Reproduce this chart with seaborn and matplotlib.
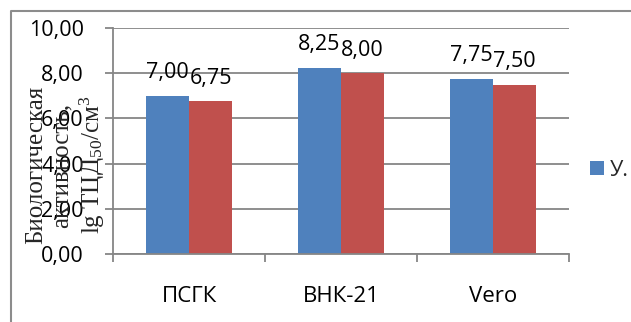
import matplotlib
matplotlib.use("Agg")
import matplotlib.pyplot as plt
import seaborn as sns
import pandas as pd
from matplotlib.lines import Line2D
from matplotlib.ticker import FixedLocator, FuncFormatter

# Biological activity of the virus in three cell cultures
cell_lines = ["ПСГК", "ВНК-21", "Vero"]
series_names = ["У.", "К."]
series_a = [7.00, 8.25, 7.75]
series_b = [6.75, 8.00, 7.50]
y_ticks = [0, 2, 4, 6, 8, 10]
bar_colors = ["#4F81BD", "#C0504D"]

df = pd.DataFrame({
    "cells": cell_lines * 2,
    "series": [series_names[0]] * 3 + [series_names[1]] * 3,
    "value": series_a + series_b,
})

sns.set_style("white")
plt.rcParams["font.family"] = ["Open Sans", "DejaVu Sans"]
plt.rcParams["mathtext.fontset"] = "custom"
plt.rcParams["mathtext.rm"] = "Liberation Serif"
plt.rcParams["mathtext.it"] = "Liberation Serif:italic"

W, H = 631, 322
fig = plt.figure(figsize=(W / 100, H / 100), dpi=100)
ax = fig.add_axes([113 / W, 1 - 254 / H, (569 - 113) / W, (254 - 28) / H])

sns.barplot(data=df, x="cells", y="value", hue="series", palette=bar_colors,
            width=0.566, saturation=1, linewidth=0, ax=ax, legend=False,
            errorbar=None)

grey = "#868686"
ax.set_ylim(0, 10)
ax.set_xlim(-0.5, 2.5)
ax.yaxis.set_major_locator(FixedLocator(y_ticks))
ax.yaxis.set_major_formatter(FuncFormatter(lambda v, p: f"{v:.2f}".replace(".", ",")))
ax.grid(axis="y", color=grey, linewidth=1.3)
ax.set_axisbelow(True)
for side in ("top", "right"):
    ax.spines[side].set_visible(False)
for side in ("left", "bottom"):
    ax.spines[side].set_color(grey)
    ax.spines[side].set_linewidth(1.3)

ax.tick_params(axis="y", length=6, width=1.3, color=grey, pad=15, labelsize=15.5,
               labelcolor="black", left=True)
ax.tick_params(axis="x", which="major", length=0, pad=23, labelsize=16,
               labelcolor="black")
ax.xaxis.set_minor_locator(FixedLocator([-0.5, 0.5, 1.5, 2.5]))
ax.tick_params(axis="x", which="minor", length=6, width=1.3, color=grey,
               direction="out", bottom=True)
ax.set_xlabel("")
ax.set_ylabel("")

for cont in ax.containers:
    ax.bar_label(cont, labels=[f"{v:.2f}".replace(".", ",") for v in cont.datavalues],
                 padding=9, fontsize=15.5, color="black")

fig.text(66 / W, 1 - 165 / H, "Биологическая\nактивность,\nlg ТЦД$_{50}$/см$^{3}$",
         rotation=90, ha="center", va="center", multialignment="center",
         family="Liberation Serif", fontsize=18, linespacing=1.2)

handle = matplotlib.patches.Patch(color=bar_colors[0], linewidth=0)
fig.legend(handles=[handle], labels=[series_names[0]], loc="center left",
           bbox_to_anchor=(590 / W, 1 - 170 / H), frameon=False, fontsize=15.5,
           handlelength=0.65, handleheight=0.65, handletextpad=0.25,
           borderpad=0, borderaxespad=0)

# outer chart border
bx, by = 10.5 / W, 1 - 10.5 / H
fig.add_artist(Line2D([bx, bx, 1.0], [0.0, by, by], transform=fig.transFigure,
                      color="#8c8c8c", linewidth=1.5))

fig.savefig("out.png", dpi=100)
